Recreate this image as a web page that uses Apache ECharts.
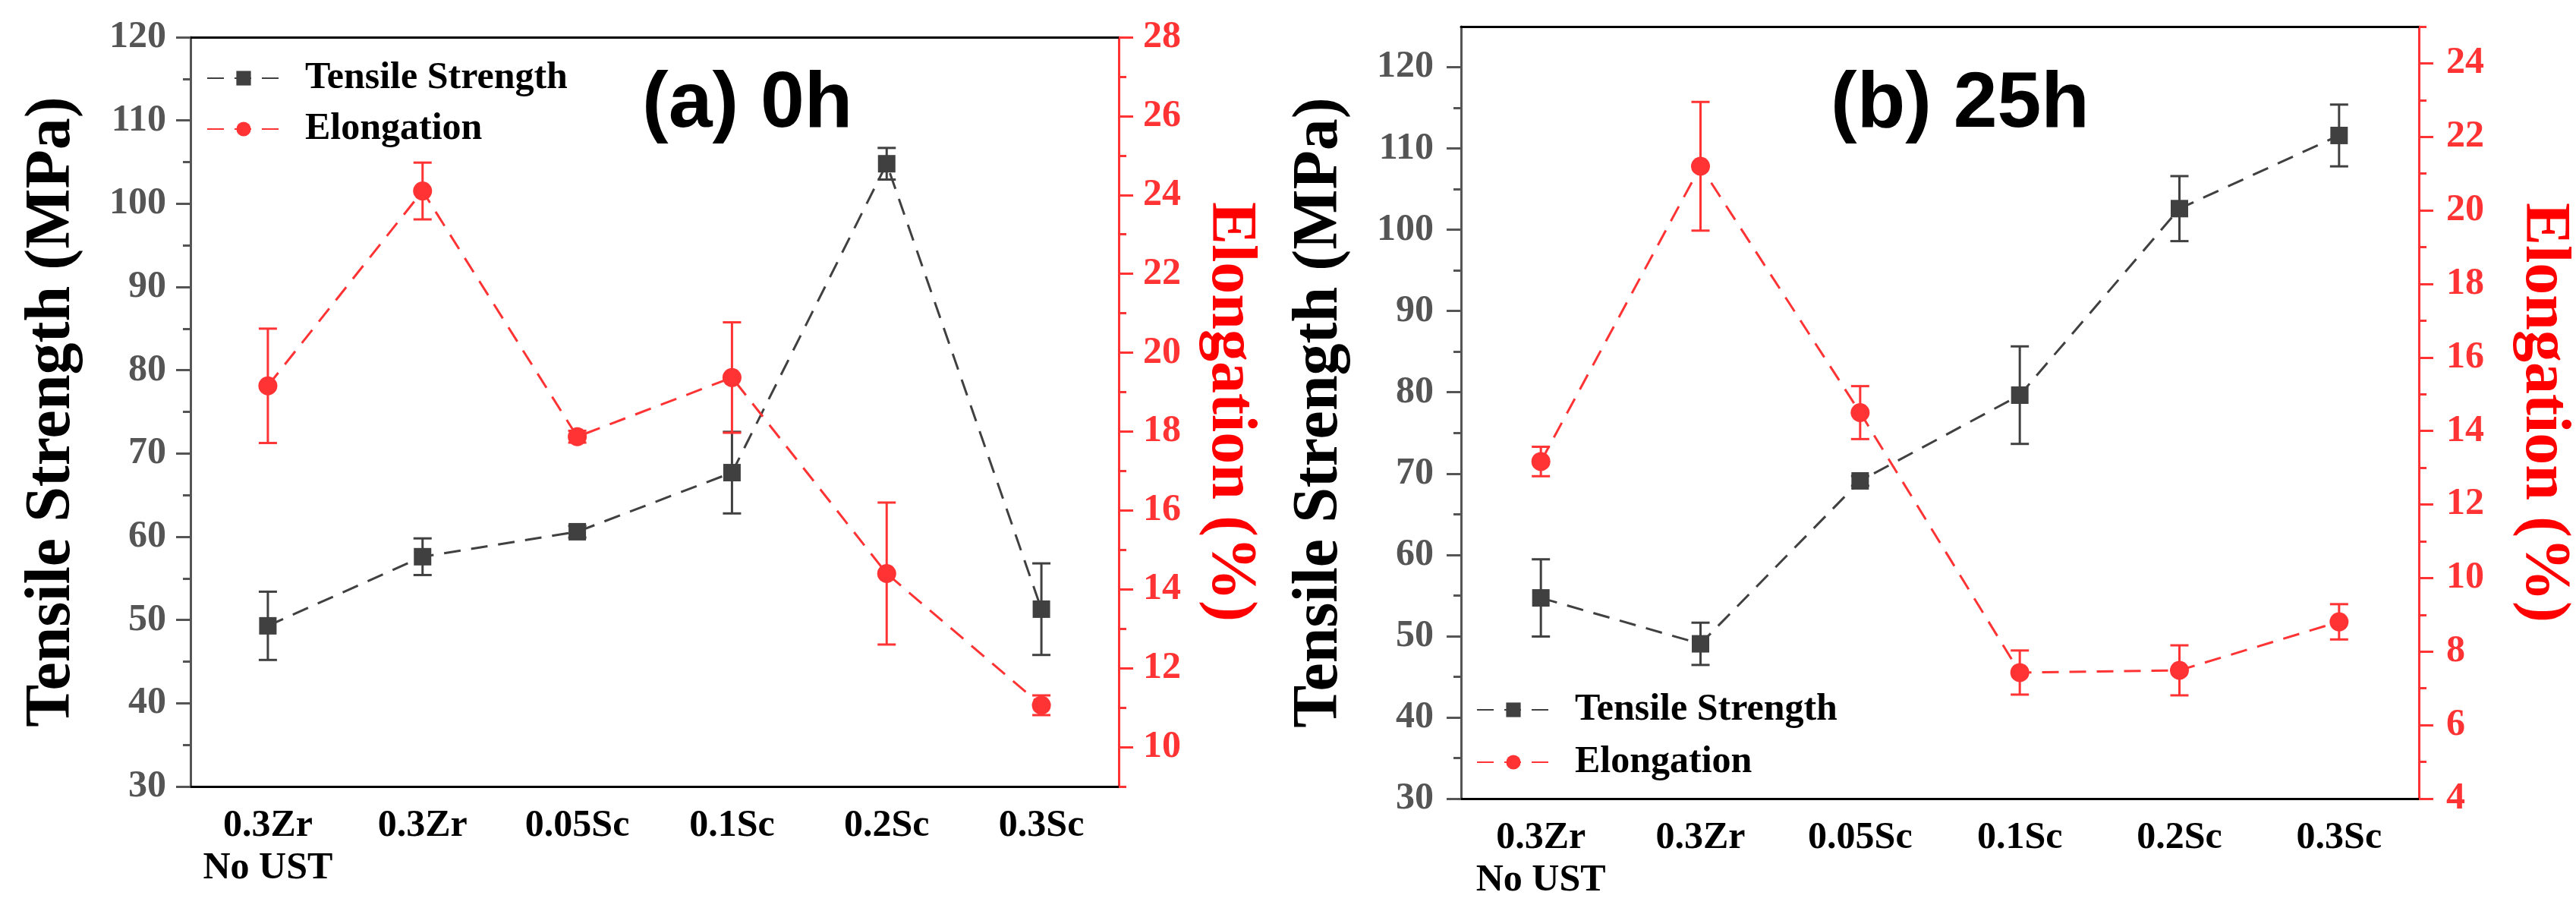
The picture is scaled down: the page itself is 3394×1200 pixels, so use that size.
<!DOCTYPE html>
<html>
<head>
<meta charset="utf-8">
<script src="https://cdn.jsdelivr.net/npm/echarts@6/dist/echarts.min.js"></script>
<style>
  html, body { margin: 0; padding: 0; background: #fff; }
  #main { width: 3394px; height: 1200px; }
</style>
</head>
<body>
<div id="main"></div>
<script>
var categories = ["0.3Zr\nNo UST", "0.3Zr", "0.05Sc", "0.1Sc", "0.2Sc", "0.3Sc"];

// (a) 0h
var tensile0h = [49.3, 57.6, 60.6, 67.7, 104.8, 51.3];
var tensile0hErr = [4.1, 2.2, 0.7, 4.9, 1.9, 5.5];
var elong0h = [19.16, 24.1, 17.87, 19.37, 14.4, 11.06];
var elong0hErr = [1.45, 0.72, 0.15, 1.4, 1.8, 0.25];

// (b) 25h
var tensile25h = [54.7, 49.05, 69.1, 79.65, 102.6, 111.6];
var tensile25hErr = [4.75, 2.6, 0.6, 6.0, 4.0, 3.8];
var elong25h = [13.17, 21.2, 14.5, 7.43, 7.49, 8.81];
var elong25hErr = [0.4, 1.75, 0.72, 0.6, 0.68, 0.48];

// tick labels
var tsTicks = [30, 40, 50, 60, 70, 80, 90, 100, 110, 120];
var tsMinor = [35, 45, 55, 65, 75, 85, 95, 105, 115];
var elTicksA = [10, 12, 14, 16, 18, 20, 22, 24, 26, 28];
var elMinorA = [9, 11, 13, 15, 17, 19, 21, 23, 25, 27];
var elTicksB = [4, 6, 8, 10, 12, 14, 16, 18, 20, 22, 24];
var elMinorB = [5, 7, 9, 11, 13, 15, 17, 19, 21, 23, 25];

var GRAY = "#404040";
var RED = "#ff3333";
var SERIF = "Liberation Serif";

var chart = echarts.init(document.getElementById("main"), null, { renderer: "canvas" });

function catAxes(gi) {
  return [
    {
      type: "category", gridIndex: gi, data: categories, position: "bottom",
      axisLine: { lineStyle: { color: "#000", width: 3 } },
      axisTick: { alignWithLabel: true, inside: true, length: 20, interval: 0, lineStyle: { color: "#000", width: 3 } },
      axisLabel: { interval: 0, margin: 24, color: "#000", fontFamily: SERIF, fontWeight: "bold", fontSize: 50, lineHeight: 56 },
      splitLine: { show: false }
    },
    {
      // boundary ticks
      type: "category", gridIndex: gi, data: categories, position: "bottom",
      axisLine: { show: false },
      axisTick: { inside: true, length: 11, interval: 0, lineStyle: { color: "#000", width: 3 } },
      axisLabel: { show: false },
      splitLine: { show: false }
    },
    {
      // top frame
      type: "category", gridIndex: gi, data: categories, position: "top",
      axisLine: { lineStyle: { color: "#000", width: 3 } },
      axisTick: { show: false }, axisLabel: { show: false }, splitLine: { show: false }
    }
  ];
}

function valAxis(gi, pos, min, max, ticks, minor, color, labelColor, name, nameColor, nameGap, nameRotate, margin) {
  return [
    {
      type: "value", gridIndex: gi, position: pos, min: min, max: max,
      name: name, nameLocation: "middle", nameGap: nameGap, nameRotate: nameRotate,
      nameTextStyle: { color: nameColor, fontFamily: SERIF, fontWeight: "bold", fontSize: 84 },
      axisLine: { show: true, lineStyle: { color: color, width: 3 } },
      axisTick: { show: true, length: 19, customValues: ticks, lineStyle: { color: color, width: 3 } },
      axisLabel: { customValues: ticks, margin: margin, color: labelColor, fontFamily: SERIF, fontWeight: "bold", fontSize: 50 },
      splitLine: { show: false }
    },
    {
      type: "value", gridIndex: gi, position: pos, min: min, max: max,
      axisLine: { show: false },
      axisTick: { show: true, length: 10, customValues: minor, lineStyle: { color: color, width: 3 } },
      axisLabel: { show: false },
      splitLine: { show: false }
    }
  ];
}

function errorBars(name, xi, yi, vals, errs, color) {
  return {
    type: "custom", name: name, xAxisIndex: xi, yAxisIndex: yi, z: 2,
    data: vals.map(function (v, i) { return [i, v - errs[i], v + errs[i]]; }),
    encode: { x: 0, y: [1, 2] },
    renderItem: function (params, api) {
      var lo = api.coord([api.value(0), api.value(1)]);
      var hi = api.coord([api.value(0), api.value(2)]);
      var hw = 12;
      var st = { stroke: color, lineWidth: 3 };
      return {
        type: "group",
        children: [
          { type: "line", shape: { x1: lo[0], y1: lo[1], x2: hi[0], y2: hi[1] }, style: st },
          { type: "line", shape: { x1: lo[0] - hw, y1: lo[1], x2: lo[0] + hw, y2: lo[1] }, style: st },
          { type: "line", shape: { x1: hi[0] - hw, y1: hi[1], x2: hi[0] + hw, y2: hi[1] }, style: st }
        ]
      };
    }
  };
}

function lineSeries(name, xi, yi, vals, color, symbol, size) {
  return {
    type: "line", name: name, xAxisIndex: xi, yAxisIndex: yi, data: vals, z: 3,
    symbol: symbol, symbolSize: size, showSymbol: true,
    itemStyle: { color: color },
    lineStyle: { color: color, width: 3, type: [22, 14] }
  };
}

var legendText = { color: "#000", fontFamily: SERIF, fontWeight: "bold", fontSize: 50, lineHeight: 50, padding: [0, 0, 0, 28] };

var option = {
  backgroundColor: "#fff",
  animation: false,
  title: [
    { text: "(a) 0h", left: 846, top: 86, padding: 0,
      textStyle: { fontFamily: "Liberation Sans", fontWeight: "bold", fontSize: 104, color: "#000" } },
    { text: "(b) 25h", left: 2412, top: 86, padding: 0,
      textStyle: { fontFamily: "Liberation Sans", fontWeight: "bold", fontSize: 104, color: "#000" } }
  ],
  legend: [
    { data: ["Tensile Strength", "Elongation"], orient: "vertical", left: 272, top: 78, padding: 0,
      itemWidth: 96, itemHeight: 24, itemGap: 17, textStyle: legendText },
    { data: ["Tensile Strength", "Elongation"], orient: "vertical", left: 1945, top: 910, padding: 0,
      itemWidth: 96, itemHeight: 24, itemGap: 19, textStyle: legendText }
  ],
  grid: [
    { left: 251, top: 49, width: 1223, height: 987 },
    { left: 1925, top: 35, width: 1264, height: 1017 }
  ],
  xAxis: catAxes(0).concat(catAxes(1)),
  yAxis: []
    .concat(valAxis(0, "left", 30, 120, tsTicks, tsMinor, "#555", "#555", "Tensile Strength (MPa)", "#000", 140, 90, 32))
    .concat(valAxis(0, "right", 9, 28, elTicksA, elMinorA, RED, RED, "Elongation (%)", "#ff0000", 104, -90, 32))
    .concat(valAxis(1, "left", 30, 125, tsTicks, tsMinor, "#555", "#555", "Tensile Strength (MPa)", "#000", 144, 90, 36))
    .concat(valAxis(1, "right", 4, 25, elTicksB, elMinorB, RED, RED, "Elongation (%)", "#ff0000", 122, -90, 36)),
  series: [
    errorBars("ts-err-a", 0, 0, tensile0h, tensile0hErr, GRAY),
    errorBars("el-err-a", 0, 2, elong0h, elong0hErr, RED),
    lineSeries("Tensile Strength", 0, 0, tensile0h, GRAY, "rect", 23),
    lineSeries("Elongation", 0, 2, elong0h, RED, "circle", 25),
    errorBars("ts-err-b", 3, 4, tensile25h, tensile25hErr, GRAY),
    errorBars("el-err-b", 3, 6, elong25h, elong25hErr, RED),
    lineSeries("Tensile Strength", 3, 4, tensile25h, GRAY, "rect", 23),
    lineSeries("Elongation", 3, 6, elong25h, RED, "circle", 25)
  ]
};

chart.setOption(option);
</script>
</body>
</html>
